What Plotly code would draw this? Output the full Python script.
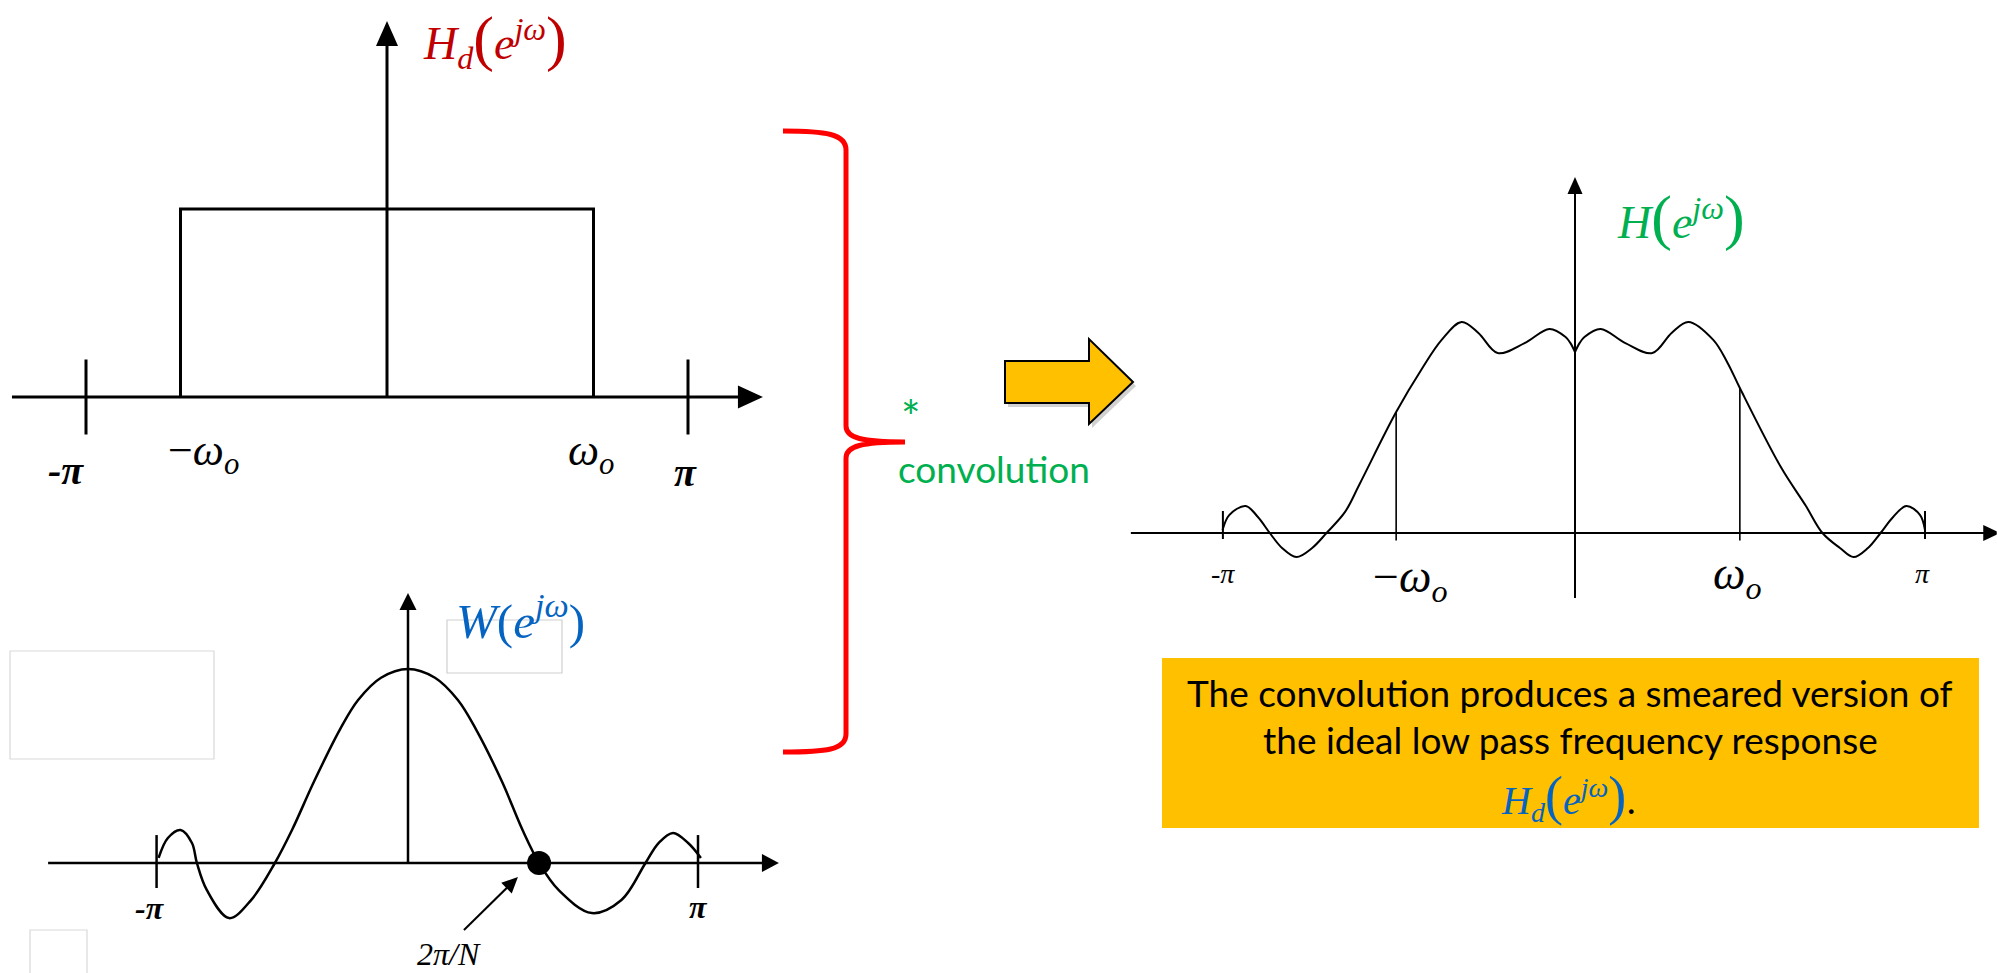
import math
import plotly.graph_objects as go

FIG_W, FIG_H = 1997, 973

# ---------------- data (frequency in units of pi) ----------------
# Ideal low-pass response H_d
HD_CUTOFF = 0.686
HD_FREQ = [-HD_CUTOFF, -HD_CUTOFF, HD_CUTOFF, HD_CUTOFF]
HD_AMP = [0.0, 1.0, 1.0, 0.0]
HD_PI_TICKS = [-1.0, 1.0]

# Window spectrum W
W_FREQ = [-0.860, -0.828, -0.784, -0.745, -0.728, -0.694, -0.617, -0.541, -0.459,
          -0.400, -0.324, -0.234, -0.172, -0.093, 0.0, 0.093, 0.172, 0.234, 0.324,
          0.395, 0.452, 0.519, 0.634, 0.736, 0.819, 0.864, 0.914, 0.966, 1.010]
W_AMP = [0.026, 0.129, 0.170, 0.103, 0.0, -0.139, -0.284, -0.191, 0.0,
         0.170, 0.420, 0.690, 0.840, 0.955, 1.0, 0.955, 0.840, 0.690, 0.420,
         0.170, 0.0, -0.139, -0.258, -0.191, 0.0, 0.103, 0.155, 0.103, 0.026]
W_FIRST_ZERO = 0.452          # 2*pi/N
W_PI_TICKS = [-0.867, 1.0]

# Smeared response H = H_d * W, split at the cusp at omega = 0
H_FREQ_NEG = [-1.007, -0.988, -0.941, -0.906, -0.872, -0.837, -0.796, -0.751, -0.710,
              -0.657, -0.616, -0.511, -0.436, -0.381, -0.324, -0.276, -0.221, -0.144,
              -0.073, -0.027, -0.013, 0.0]
H_AMP_NEG = [0.014, 0.085, 0.128, 0.076, 0.0, -0.071, -0.114, -0.071, 0.0,
             0.100, 0.230, 0.573, 0.782, 0.915, 1.0, 0.948, 0.853, 0.900,
             0.967, 0.929, 0.900, 0.858]
H_FREQ_POS = [0.0, 0.013, 0.027, 0.073, 0.144, 0.221, 0.276, 0.324, 0.395, 0.436,
              0.471, 0.589, 0.659, 0.707, 0.757, 0.796, 0.837, 0.873, 0.909, 0.947,
              0.986, 1.0]
H_AMP_POS = [0.858, 0.900, 0.929, 0.967, 0.900, 0.853, 0.948, 1.0, 0.915, 0.806,
             0.687, 0.310, 0.130, 0.0, -0.071, -0.114, -0.071, 0.0, 0.076, 0.128,
             0.085, 0.014]
H_CUTOFF_MARKS = [-0.511, 0.471]
H_PI_TICKS = [-1.006, 1.0]

# ---------------- panel geometry (pixels) ----------------
PANELS = [
    # origin px, px per unit, unit ranges
    dict(ox=387, oy=397, sx=301, sy=188, xr=(-1.28, 1.28), yr=(-0.45, 2.1)),
    dict(ox=408, oy=863, sx=290, sy=194, xr=(-1.3, 1.35), yr=(-0.5, 1.5)),
    dict(ox=1575, oy=533, sx=350, sy=211, xr=(-1.3, 1.205), yr=(-0.35, 1.75)),
]
AX = ["", "2", "3"]

RED = "#C00000"
BLUE = "#0563C1"
GREEN = "#00B050"
GOLD = "#FFC000"
MATH_FONT = "Liberation Serif"
TEXT_FONT = "Lato"


def px(x, y):
    return x / FIG_W, 1 - y / FIG_H


layout = dict(
    width=FIG_W, height=FIG_H,
    margin=dict(l=0, r=0, t=0, b=0),
    paper_bgcolor="white", plot_bgcolor="white",
    showlegend=False,
)
for p, s in zip(PANELS, AX):
    x0 = (p["ox"] + p["xr"][0] * p["sx"]) / FIG_W
    x1 = (p["ox"] + p["xr"][1] * p["sx"]) / FIG_W
    y0 = 1 - (p["oy"] - p["yr"][0] * p["sy"]) / FIG_H
    y1 = 1 - (p["oy"] - p["yr"][1] * p["sy"]) / FIG_H
    layout["xaxis" + s] = dict(domain=[x0, x1], range=list(p["xr"]), visible=False,
                               anchor="y" + s, fixedrange=True)
    layout["yaxis" + s] = dict(domain=[y0, y1], range=list(p["yr"]), visible=False,
                               anchor="x" + s, fixedrange=True)

fig = go.Figure()
shapes = []
annotations = []


def line(s, xs, ys, width, shape="linear", color="black"):
    fig.add_trace(go.Scatter(x=xs, y=ys, xaxis="x" + s, yaxis="y" + s, mode="lines",
                             line=dict(color=color, width=width, shape=shape,
                                       smoothing=1.0),
                             cliponaxis=False, hoverinfo="skip"))


def ticks(s, xs, lo, hi, width):
    tx, ty = [], []
    for x in xs:
        tx += [x, x, None]
        ty += [lo, hi, None]
    line(s, tx, ty, width)


def arrow(i, x0, y0, x1, y1, width, head_len, head_w):
    """Shaft as a line trace, filled triangular head as a data-space path."""
    p, s = PANELS[i], AX[i]
    dxp, dyp = (x1 - x0) * p["sx"], (y1 - y0) * p["sy"]
    n = math.hypot(dxp, dyp)
    ux, uy = dxp / n, dyp / n
    bx, by = x1 - ux * head_len / p["sx"], y1 - uy * head_len / p["sy"]
    line(s, [x0, x1 - ux * head_len * 0.6 / p["sx"]],
         [y0, y1 - uy * head_len * 0.6 / p["sy"]], width)
    nx, ny = -uy, ux
    c1 = (bx + nx * head_w / 2 / p["sx"], by + ny * head_w / 2 / p["sy"])
    c2 = (bx - nx * head_w / 2 / p["sx"], by - ny * head_w / 2 / p["sy"])
    path = f"M{x1},{y1} L{c1[0]},{c1[1]} L{c2[0]},{c2[1]} Z"
    shapes.append(dict(type="path", xref="x" + s, yref="y" + s, path=path,
                       fillcolor="black", line=dict(width=0), layer="above"))


def label(s, x, y, text, size, color="black", family=MATH_FONT, xanchor="center"):
    annotations.append(dict(xref="x" + s, yref="y" + s, x=x, y=y, text=text,
                            showarrow=False, xanchor=xanchor, yanchor="middle",
                            font=dict(size=size, color=color, family=family)))


def paren(ch, size):
    return f'<span style="font-size:{size}px">{ch}</span>'


# ---------- panel A: ideal low-pass ----------
s = AX[0]
arrow(0, -1.246, 0, 1.249, 0, 3, 25, 23)
arrow(0, 0, 0, 0, 2.0, 3, 25, 22)
line(s, HD_FREQ, HD_AMP, 3)
ticks(s, HD_PI_TICKS, -0.2, 0.2, 3)
label(s, -1.065, -0.39, "<b><i>-π</i></b>", 40)
label(s, -0.611, -0.30, "−<i>ω<sub>o</sub></i>", 44)
label(s, 0.678, -0.30, "<i>ω<sub>o</sub></i>", 44)
label(s, 0.993, -0.40, "<b><i>π</i></b>", 40)
label(s, 0.112, 1.90,
      "<i>H<sub>d</sub></i>" + paren("(", 62) + "<i>e<sup>jω</sup></i>" + paren(")", 62),
      46, color=RED, xanchor="left")

# ---------- panel B: window spectrum ----------
s = AX[1]
arrow(1, -1.241, 0, 1.279, 0, 2.5, 17, 18)
arrow(1, 0, 0, 0, 1.392, 2.5, 17, 17)
line(s, W_FREQ, W_AMP, 2.5, shape="spline")
ticks(s, W_PI_TICKS, -0.129, 0.144, 2.5)
fig.add_trace(go.Scatter(x=[W_FIRST_ZERO], y=[0], xaxis="x2", yaxis="y2", mode="markers",
                         marker=dict(size=24, color="black"), cliponaxis=False,
                         hoverinfo="skip"))
label(s, -0.890, -0.232, "<b><i>-π</i></b>", 32)
label(s, 1.003, -0.227, "<b><i>π</i></b>", 32)
label(s, 0.141, -0.47, "<i>2π/N</i>", 32)
arrow(1, 0.193, -0.345, 0.379, -0.072, 2, 16, 15)
label(s, 0.160, 1.268, "<i>W</i>(<i>e<sup>jω</sup></i>)", 49, color=BLUE,
      xanchor="left")

# ---------- panel C: smeared response ----------
s = AX[2]
arrow(2, -1.269, 0, 1.215, 0, 2, 17, 16)
arrow(2, 0, -0.308, 0, 1.687, 2, 17, 15)
line(s, H_FREQ_NEG, H_AMP_NEG, 2, shape="spline")
line(s, H_FREQ_POS, H_AMP_POS, 2, shape="spline")
ticks(s, H_PI_TICKS, -0.028, 0.104, 2)
h_lookup = dict(zip(H_FREQ_NEG + H_FREQ_POS, H_AMP_NEG + H_AMP_POS))
cx, cy = [], []
for f in H_CUTOFF_MARKS:
    cx += [f, f, None]
    cy += [-0.035, h_lookup[f], None]
line(s, cx, cy, 1.6)
label(s, -1.006, -0.19, "<i>-π</i>", 28)
label(s, -0.471, -0.223, "−<i>ω<sub>o</sub></i>", 46)
label(s, 0.463, -0.209, "<i>ω<sub>o</sub></i>", 46)
label(s, 0.994, -0.19, "<i>π</i>", 28)
label(s, 0.114, 1.493,
      "<i>H</i>" + paren("(", 62) + "<i>e<sup>jω</sup></i>" + paren(")", 62),
      46, color=GREEN, xanchor="left")


# ---------- connecting decorations (paper coordinates) ----------
def path_from(cmds):
    out = []
    for c in cmds:
        if isinstance(c, str):
            out.append(c)
        else:
            x, y = px(*c)
            out.append(f"{x:.5f},{y:.5f}")
    return " ".join(out)


def rect(x0, y0, x1, y1, **kw):
    a, b = px(x0, y0)
    c, d = px(x1, y1)
    shapes.append(dict(type="rect", xref="paper", yref="paper", x0=a, y0=d, x1=c, y1=b,
                       **kw))


# faint placeholder frames
rect(10, 651, 214, 759, line=dict(color="#D9D9D9", width=1.2))
rect(447, 620, 562, 673, line=dict(color="#D0D0D0", width=1.2), layer="below")
rect(30, 930, 87, 980, line=dict(color="#D9D9D9", width=1.2))

# red brace grouping the two inputs
brace = path_from(["M", (783, 131), "C", (826, 131), (846, 134), (846, 150),
                   "L", (846, 426), "C", (846, 438), (862, 442), (905, 442),
                   "C", (862, 442), (846, 446), (846, 458),
                   "L", (846, 734), "C", (846, 750), (826, 752), (783, 752)])
shapes.append(dict(type="path", xref="paper", yref="paper", path=brace,
                   line=dict(color="#FF0000", width=5)))

# block arrow (with soft shadow)
arrow_pts = [(1005, 361), (1089, 361), (1089, 339), (1133, 382), (1089, 424),
             (1089, 403), (1005, 403)]


def poly(pts, dx=0, dy=0):
    cmds = ["M"]
    for k, (x, y) in enumerate(pts):
        if k:
            cmds.append("L")
        cmds.append((x + dx, y + dy))
    return path_from(cmds + ["Z"])


shapes.append(dict(type="path", xref="paper", yref="paper", path=poly(arrow_pts, 3, 4),
                   fillcolor="rgba(0,0,0,0.18)", line=dict(width=0)))
shapes.append(dict(type="path", xref="paper", yref="paper", path=poly(arrow_pts),
                   fillcolor=GOLD, line=dict(color="black", width=2)))

# caption box
rect(1162, 658, 1979, 828, fillcolor=GOLD, line=dict(width=0), layer="below")


def paper_label(x, y, text, size, color="black", family=TEXT_FONT, xanchor="center"):
    a, b = px(x, y)
    annotations.append(dict(xref="paper", yref="paper", x=a, y=b, text=text,
                            showarrow=False, xanchor=xanchor, yanchor="middle",
                            font=dict(size=size, color=color, family=family)))


paper_label(899, 416, "*", 46, color=GREEN, xanchor="left")
paper_label(896, 468, "convolution", 37, color=GREEN, xanchor="left")

paper_label(1570, 692, "The convolution produces a smeared version of", 37)
paper_label(1570, 739, "the ideal low pass frequency response", 37)
paper_label(1568, 797,
            "<i>H<sub>d</sub></i>" + paren("(", 54) + "<i>e<sup>jω</sup></i>"
            + paren(")", 54) + '<span style="color:black">.</span>',
            40, color=BLUE, family=MATH_FONT)

layout["annotations"] = annotations
layout["shapes"] = shapes
fig.update_layout(**layout)
fig.write_html("out.html")
